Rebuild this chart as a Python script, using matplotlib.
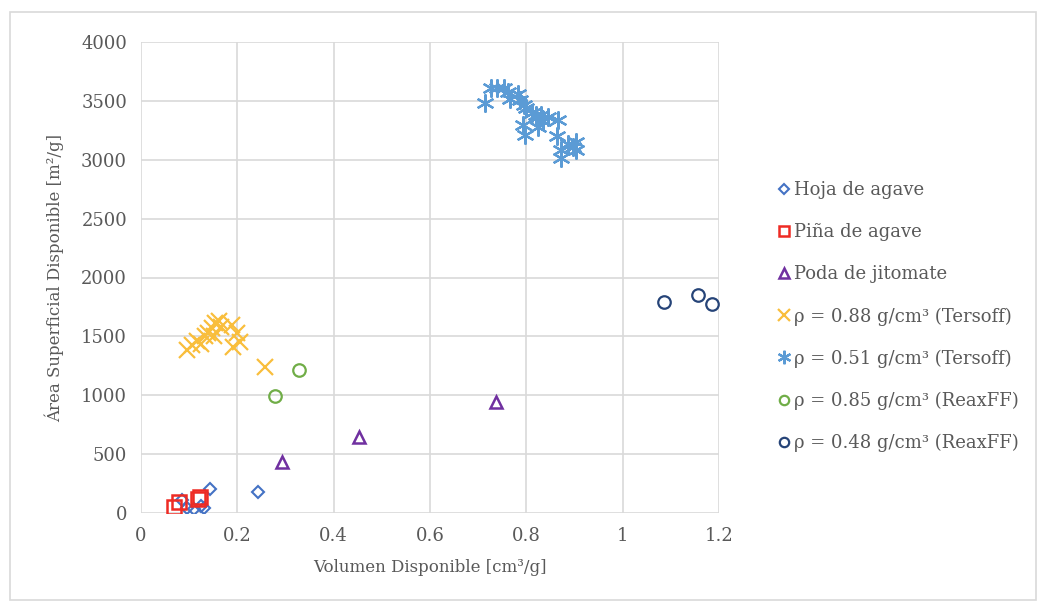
import matplotlib
matplotlib.use("Agg")
import matplotlib.pyplot as plt
from matplotlib.patches import Rectangle

plt.rcParams['font.family'] = ['DejaVu Serif']

# Hoja de agave
hoja_x = [0.085, 0.095, 0.11, 0.125, 0.13, 0.143, 0.243]
hoja_y = [110, 45, 35, 60, 40, 205, 180]

# Pina de agave
pina_x = [0.068, 0.078, 0.118, 0.122]
pina_y = [55, 90, 120, 135]

# Poda de jitomate
poda_x = [0.293, 0.453, 0.736]
poda_y = [435, 645, 942]

# rho = 0.88 (Tersoff)
t88_x = [0.096, 0.106, 0.116, 0.125, 0.133, 0.139, 0.148, 0.154, 0.162, 0.166,
         0.152, 0.189, 0.200, 0.206, 0.191, 0.258]
t88_y = [1384, 1426, 1460, 1435, 1503, 1528, 1571, 1613, 1630, 1579,
         1503, 1596, 1528, 1452, 1409, 1240]

# rho = 0.51 (Tersoff)
t51_x = [0.715, 0.726, 0.740, 0.753, 0.761, 0.767, 0.782, 0.786, 0.796, 0.800,
         0.794, 0.798, 0.821, 0.825, 0.834, 0.846, 0.865, 0.863, 0.871, 0.873,
         0.886, 0.904, 0.904, 0.896, 0.830, 0.811]
t51_y = [3481, 3608, 3608, 3608, 3574, 3515, 3557, 3506, 3464, 3438,
         3294, 3209, 3379, 3277, 3328, 3362, 3336, 3200, 3082, 3014,
         3133, 3150, 3082, 3108, 3379, 3396]

# rho = 0.85 (ReaxFF)
r85_x = [0.279, 0.328]
r85_y = [993, 1214]

# rho = 0.48 (ReaxFF)
r48_x = [1.085, 1.156, 1.185]
r48_y = [1791, 1851, 1774]

grey = '#595959'

fig = plt.figure(figsize=(10.38, 6.02), dpi=100)
fig.patches.append(Rectangle((10/1038, 2/602), 1026/1038, 588/602, transform=fig.transFigure,
                             fill=False, edgecolor='#d9d9d9', linewidth=1.2))
ax = fig.add_axes([141/1038, 89/602, 578/1038, 471/602])

ax.plot(hoja_x, hoja_y, ls='none', marker='D', ms=6.5, mfc='none', mec='#4472C4', mew=1.5,
        label='Hoja de agave')
ax.plot(pina_x, pina_y, ls='none', marker='s', ms=9.5, mfc='none', mec='#EE2B24', mew=1.8,
        label='Piña de agave')
ax.plot(poda_x, poda_y, ls='none', marker='^', ms=9, mfc='none', mec='#7030A0', mew=1.8,
        label='Poda de jitomate')
ax.plot(t88_x, t88_y, ls='none', marker='x', ms=12, mec='#F9BE3C', mew=1.6,
        label='ρ = 0.88 g/cm³ (Tersoff)')
ax.plot(t51_x, t51_y, ls='none', marker=(6, 2, 0), ms=13, mec='#5B9BD5', mew=1.6,
        label='ρ = 0.51 g/cm³ (Tersoff)')
ax.plot(r85_x, r85_y, ls='none', marker='o', ms=9, mfc='none', mec='#70AD47', mew=1.6,
        label='ρ = 0.85 g/cm³ (ReaxFF)')
ax.plot(r48_x, r48_y, ls='none', marker='o', ms=9, mfc='none', mec='#264478', mew=1.6,
        label='ρ = 0.48 g/cm³ (ReaxFF)')

ax.set_xlim(0, 1.2)
ax.set_ylim(0, 4000)
ax.set_xticks([0, 0.2, 0.4, 0.6, 0.8, 1.0, 1.2])
ax.set_xticklabels(['0', '0.2', '0.4', '0.6', '0.8', '1', '1.2'])
ax.set_yticks(range(0, 4001, 500))
ax.grid(True, color='#d9d9d9', linewidth=1.2)
ax.set_axisbelow(True)
for s in ax.spines.values():
    s.set_visible(False)
ax.tick_params(length=0, labelsize=13, colors=grey, pad=10)

ax.set_xlabel('Volumen Disponible [cm³/g]', fontsize=12, color=grey, labelpad=10)
ax.set_ylabel('Área Superficial Disponible [m²/g]', fontsize=12, color=grey, labelpad=12)

fig.legend(loc='upper left', bbox_to_anchor=(762/1038, 1 - 165/602), frameon=False,
           fontsize=13, labelcolor=grey, handlelength=0.6, handletextpad=0.3,
           labelspacing=1.33, markerscale=0.75)

fig.savefig('out.png', dpi=100)
